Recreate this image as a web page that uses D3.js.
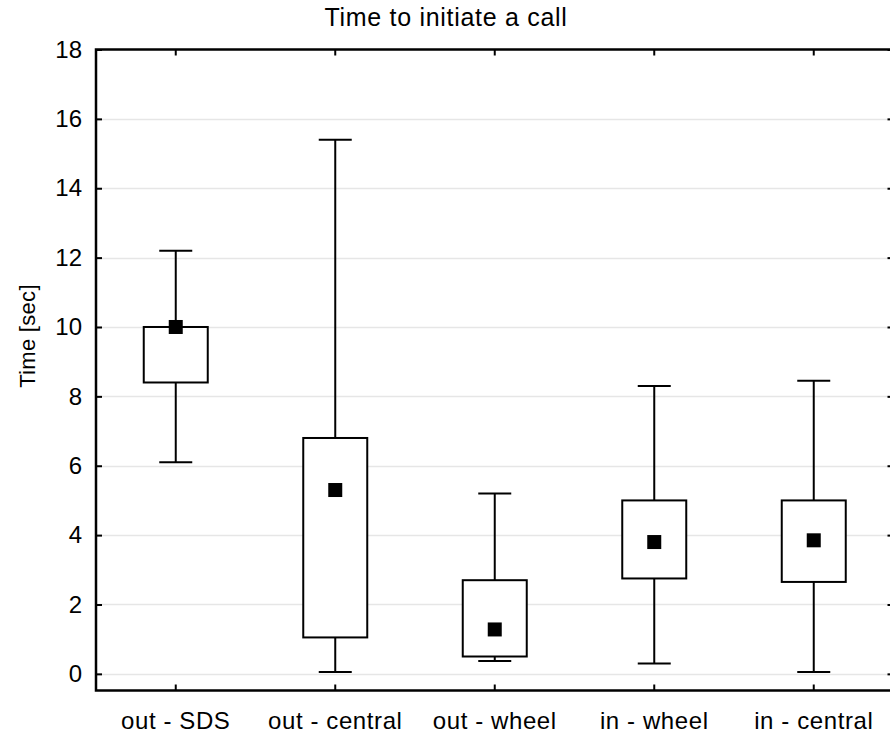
<!DOCTYPE html>
<html lang="en">
  <head>
    <meta charset="utf-8">
    <title>Time to initiate a call</title>
    <style>
      body { margin: 0; background: #fff; }
      svg { display: block; font-family: "Liberation Sans", Arial, sans-serif; }
    </style>
  </head>
  <body>
    <svg width="890" height="733"></svg>
    <script src="https://d3js.org/d3.v7.min.js"></script>
    <script>

    // box plot data (sec)
    var categories = ["out - SDS", "out - central", "out - wheel", "in - wheel", "in - central"];
    var minVals  = [6.1, 0.05, 0.37, 0.3, 0.05];
    var q1Vals   = [8.4, 1.05, 0.5, 2.75, 2.65];
    var q3Vals   = [10.0, 6.8, 2.7, 5.0, 5.0];
    var maxVals  = [12.2, 15.4, 5.2, 8.3, 8.45];
    var meanVals = [10.0, 5.3, 1.28, 3.8, 3.85];
    var yTicks   = [0, 2, 4, 6, 8, 10, 12, 14, 16, 18];

    var svg = d3.select("svg");

    // plot area edges (note: "top" is reserved on window)
    var plotL = 96, plotR = 893.5, plotT = 49.5, plotB = 690.5;

    var x = d3.scaleBand()
        .domain(categories)
        .range([plotL, plotR])
        .padding(0);

    var y = d3.scaleLinear()
        .domain([-0.48, 18])
        .range([plotB, plotT]);

    var boxW = 64, capW = 33, markW = 14;

    // grid lines
    svg.append("g")
      .selectAll("line")
      .data(yTicks.slice(0, -1))
      .enter().append("line")
        .attr("x1", plotL).attr("x2", plotR)
        .attr("y1", function(d) { return Math.round(y(d)) + 0.5; })
        .attr("y2", function(d) { return Math.round(y(d)) + 0.5; })
        .attr("stroke", "#e6e6e6")
        .attr("stroke-width", 1.5);

    // left axis, ticks pointing inward
    var yAxis = svg.append("g")
        .attr("transform", "translate(" + plotL + ",0)")
        .call(d3.axisLeft(y).tickValues(yTicks).tickSize(-6).tickPadding(14));
    yAxis.select(".domain").remove();
    yAxis.selectAll("line").attr("stroke", "#000").attr("stroke-width", 2);
    yAxis.selectAll("text").attr("font-size", 24).attr("fill", "#000");

    // right ticks
    var yAxisR = svg.append("g")
        .attr("transform", "translate(" + plotR + ",0)")
        .call(d3.axisRight(y).tickValues(yTicks).tickSize(-6).tickFormat(""));
    yAxisR.select(".domain").remove();
    yAxisR.selectAll("line").attr("stroke", "#000").attr("stroke-width", 2);

    // bottom axis, ticks pointing up
    var xAxis = svg.append("g")
        .attr("transform", "translate(0," + plotB + ")")
        .call(d3.axisBottom(x).tickSize(-6).tickPadding(21));
    xAxis.select(".domain").remove();
    xAxis.selectAll("line").attr("stroke", "#000").attr("stroke-width", 2);
    xAxis.selectAll("text")
        .attr("font-size", 24)
        .attr("letter-spacing", 0.6)
        .attr("fill", "#000");

    // top ticks
    var xAxisT = svg.append("g")
        .attr("transform", "translate(0," + plotT + ")")
        .call(d3.axisTop(x).tickSize(-6).tickFormat(""));
    xAxisT.select(".domain").remove();
    xAxisT.selectAll("line").attr("stroke", "#000").attr("stroke-width", 2);

    // frame
    svg.append("path")
        .attr("d", "M" + plotR + "," + plotT + "H" + plotL + "V" + plotB + "H" + plotR)
        .attr("fill", "none")
        .attr("stroke", "#000")
        .attr("stroke-width", 2.5);

    // boxes
    var box = svg.append("g")
      .selectAll("g")
      .data(categories)
      .enter().append("g")
        .attr("transform", function(d) { return "translate(" + (x(d) + x.bandwidth() / 2) + ",0)"; });

    box.append("line")
        .attr("x1", 0).attr("x2", 0)
        .attr("y1", function(d, i) { return y(maxVals[i]); })
        .attr("y2", function(d, i) { return y(minVals[i]); })
        .attr("stroke", "#000").attr("stroke-width", 2);

    box.append("line")
        .attr("x1", -capW / 2).attr("x2", capW / 2)
        .attr("y1", function(d, i) { return y(maxVals[i]); })
        .attr("y2", function(d, i) { return y(maxVals[i]); })
        .attr("stroke", "#000").attr("stroke-width", 2);

    box.append("line")
        .attr("x1", -capW / 2).attr("x2", capW / 2)
        .attr("y1", function(d, i) { return y(minVals[i]); })
        .attr("y2", function(d, i) { return y(minVals[i]); })
        .attr("stroke", "#000").attr("stroke-width", 2);

    box.append("rect")
        .attr("x", -boxW / 2)
        .attr("width", boxW)
        .attr("y", function(d, i) { return y(q3Vals[i]); })
        .attr("height", function(d, i) { return y(q1Vals[i]) - y(q3Vals[i]); })
        .attr("fill", "#fff")
        .attr("stroke", "#000").attr("stroke-width", 2);

    box.append("rect")
        .attr("x", -markW / 2)
        .attr("width", markW)
        .attr("y", function(d, i) { return y(meanVals[i]) - markW / 2; })
        .attr("height", markW)
        .attr("fill", "#000");

    // title
    svg.append("text")
        .attr("x", 446)
        .attr("y", 26)
        .attr("text-anchor", "middle")
        .attr("font-size", 25)
        .attr("letter-spacing", 0.7)
        .text("Time to initiate a call");

    // y label
    svg.append("text")
        .attr("transform", "translate(35,336) rotate(-90)")
        .attr("text-anchor", "middle")
        .attr("font-size", 22)
        .attr("letter-spacing", 0.3)
        .text("Time [sec]");

    </script>
  </body>
</html>
